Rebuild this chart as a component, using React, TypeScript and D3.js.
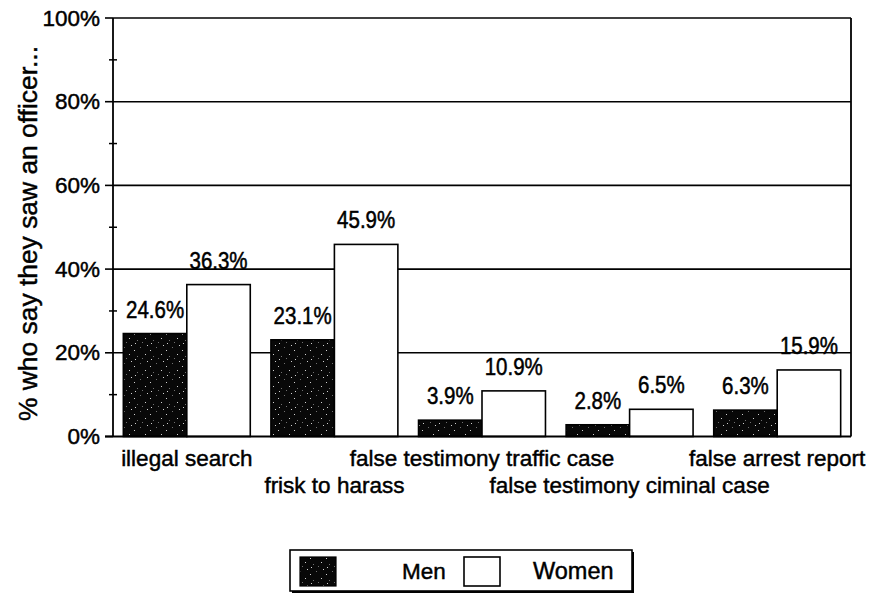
import React from "react";
import * as d3 from "d3";

const categories = [
  "illegal search",
  "frisk to harass",
  "false testimony traffic case",
  "false testimony ciminal case",
  "false arrest report",
];
const seriesNames = ["Men", "Women"];
const menValues = [24.6, 23.1, 3.9, 2.8, 6.3];
const womenValues = [36.3, 45.9, 10.9, 6.5, 15.9];
const yTicks = [0, 20, 40, 60, 80, 100];
const yMinorTicks = [10, 30, 50, 70, 90];
const yTitle = "% who say they saw an officer...";

const W = 872;
const H = 595;
const FONT = "'Liberation Sans', Arial, Helvetica, sans-serif";
const TS = { stroke: "#000", strokeWidth: 0.45 };

export default function App() {
  const left = 113;
  const right = 851;
  const top = 18;
  const bottom = 436.5;

  const x = d3
    .scaleBand<string>()
    .domain(categories)
    .range([left, right])
    .paddingInner(0.14)
    .paddingOuter(0.07);
  const xs = d3
    .scaleBand<string>()
    .domain(seriesNames)
    .range([0, x.bandwidth()]);
  const y = d3.scaleLinear().domain([0, 100]).range([bottom, top]);
  const fmt = (v: number) => d3.format(".1f")(v) + "%";

  const series = [
    { name: "Men", values: menValues, fill: "url(#speckle)" },
    { name: "Women", values: womenValues, fill: "#ffffff" },
  ];

  const dots: [number, number][] = [
    [1, 2], [9, 4], [3, 9], [12, 11], [6, 14], [14, 6], [7, 7],
  ];

  return (
    <svg width={W} height={H} style={{ position: "absolute", left: 0, top: 0, background: "#fff" }}>
      <defs>
        <pattern id="speckle" width={16} height={16} patternUnits="userSpaceOnUse">
          <rect width={16} height={16} fill="#080808" />
          {dots.map(([dx, dy], i) => (
            <rect key={i} x={dx} y={dy} width={1} height={1} fill={i % 2 === 0 ? "#d0d0d0" : "#707070"} />
          ))}
        </pattern>
      </defs>
      <rect width={W} height={H} fill="#fff" />

      {yTicks.filter((t) => t > 0).map((t) => (
        <line key={t} x1={left} x2={right} y1={y(t)} y2={y(t)} stroke="#000" strokeWidth={1.6} />
      ))}

      {series.map((s) =>
        categories.map((c, i) => (
          <rect
            key={s.name + c}
            x={(x(c) as number) + (xs(s.name) as number)}
            y={y(s.values[i])}
            width={xs.bandwidth()}
            height={bottom - y(s.values[i])}
            fill={s.fill}
            stroke="#000"
            strokeWidth={1.6}
          />
        ))
      )}

      <line x1={left} x2={left} y1={top} y2={bottom} stroke="#000" strokeWidth={1.8} />
      <line x1={right} x2={right} y1={top} y2={bottom} stroke="#000" strokeWidth={1.8} />
      <line x1={left - 8} x2={right} y1={bottom} y2={bottom} stroke="#000" strokeWidth={1.8} />

      {yTicks.map((t) => (
        <g key={t}>
          <line x1={left - 8} x2={left} y1={y(t)} y2={y(t)} stroke="#000" strokeWidth={1.6} />
          <text
            x={left - 13}
            y={y(t)}
            textAnchor="end"
            dominantBaseline="central"
            fontFamily={FONT}
            fontSize={22.5}
            fill="#000"
            {...TS}
          >
            {t}%
          </text>
        </g>
      ))}
      {yMinorTicks.map((t) => (
        <line key={t} x1={left - 4} x2={left + 4} y1={y(t)} y2={y(t)} stroke="#000" strokeWidth={1.5} />
      ))}

      <text
        transform={`translate(28,233.5) rotate(-90)`}
        textAnchor="middle"
        dominantBaseline="central"
        fontFamily={FONT}
        fontSize={26.4}
        fill="#000"
        {...TS}
      >
        {yTitle}
      </text>

      {series.map((s) =>
        categories.map((c, i) => (
          <text
            key={"l" + s.name + c}
            transform={`translate(${(x(c) as number) + (xs(s.name) as number) + xs.bandwidth() / 2},${
              y(s.values[i]) - 16
            }) scale(1,1.18)`}
            textAnchor="middle"
            fontFamily={FONT}
            fontSize={20.5}
            fill="#000"
            {...TS}
          >
            {fmt(s.values[i])}
          </text>
        ))
      )}

      {categories.map((c, i) => (
        <text
          key={"c" + c}
          x={(x(c) as number) + x.bandwidth() / 2}
          y={i % 2 === 0 ? 466 : 493}
          textAnchor="middle"
          fontFamily={FONT}
          fontSize={22.5}
          fill="#000"
          {...TS}
        >
          {c}
        </text>
      ))}

      <g>
        <rect x={292} y={552} width={342} height={41} fill="#000" />
        <rect x={290} y={550} width={342} height={41} fill="#fff" stroke="#000" strokeWidth={1.6} />
        <rect x={300} y={557} width={36} height={29} fill="url(#speckle)" stroke="#000" strokeWidth={1.2} />
        <text x={402} y={579} fontFamily={FONT} fontSize={22.5} fill="#000" {...TS}>
          {seriesNames[0]}
        </text>
        <rect x={464} y={557} width={36} height={29} fill="#fff" stroke="#000" strokeWidth={1.6} />
        <text x={533} y={579} fontFamily={FONT} fontSize={23.5} fill="#000" {...TS}>
          {seriesNames[1]}
        </text>
      </g>
    </svg>
  );
}
